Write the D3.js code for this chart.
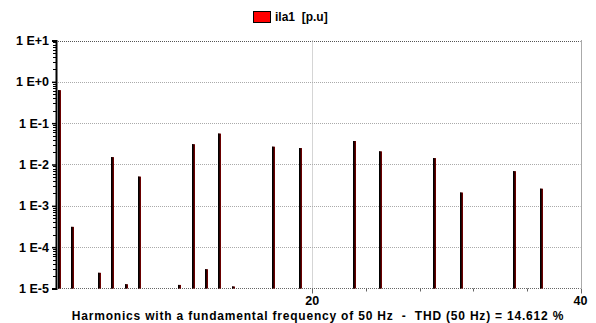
<!DOCTYPE html>
<html>
<head>
<meta charset="utf-8">
<script src="https://cdn.jsdelivr.net/npm/d3@7"></script>
<style>
  html, body { margin: 0; padding: 0; background: #fff; }
  svg { display: block; }
  svg text { font-family: "Liberation Sans", Arial, sans-serif; font-weight: 700; white-space: pre; fill: #000; }
</style>
</head>
<body>
<svg id="chart" width="596" height="323"></svg>
<script>
// Harmonic spectrum of phase current ila1 (per unit), log scale
const harmonicOrders = [1, 2, 4, 5, 6, 7, 10, 11, 12, 13, 14, 17, 19, 23, 25, 29, 31, 35, 37];
const harmonicValues = [0.63, 3.1e-4, 2.4e-5, 0.0151, 1.27e-5, 5.1e-3, 1.22e-5, 0.031, 2.93e-5, 0.056, 1.12e-5,
                        0.027, 0.025, 0.037, 0.0208, 0.0143, 2.1e-3, 6.9e-3, 2.6e-3];
const yTickValues = [1e1, 1e0, 1e-1, 1e-2, 1e-3, 1e-4, 1e-5];
const yTickLabels = ["1 E+1", "1 E+0", "1 E-1", "1 E-2", "1 E-3", "1 E-4", "1 E-5"];
const xTickValues = [20, 40];
const xMinorTicks = [24, 28, 32, 36];
const seriesName = "ila1  [p.u]";
const xTitle = "Harmonics with a fundamental frequency of 50 Hz  -  THD (50 Hz) = 14.612 %";

const svg = d3.select("#chart");
const plotLeft = 57.5, plotRight = 580.5, plotTop = 40.5, plotBottom = 288.5;
const axisX = 56;

const x = d3.scaleLinear().domain([1, 40]).range([plotLeft, plotRight]);
const y = d3.scaleLog().domain([1e-5, 1e1]).range([plotBottom, plotTop]);

// horizontal grid lines
svg.append("g").selectAll("line")
  .data(yTickValues.filter(v => v > 1e-5))
  .join("line")
  .attr("x1", axisX).attr("x2", plotRight)
  .attr("y1", d => Math.round(y(d)) + 0.5).attr("y2", d => Math.round(y(d)) + 0.5)
  .attr("stroke", d => d === 1e1 ? "#555" : "#aaa")
  .attr("stroke-width", 1)
  .attr("stroke-dasharray", "1,1");

// vertical grid line at 20, right frame at 40
svg.append("g").selectAll("line")
  .data(xTickValues)
  .join("line")
  .attr("x1", d => Math.round(x(d)) + 0.5).attr("x2", d => Math.round(x(d)) + 0.5)
  .attr("y1", plotTop).attr("y2", plotBottom)
  .attr("stroke", d => d === 40 ? "#555" : "#aaa")
  .attr("stroke-dasharray", "1,1");

// bottom axis line (dotted)
svg.append("line")
  .attr("x1", axisX).attr("x2", plotRight)
  .attr("y1", plotBottom).attr("y2", plotBottom)
  .attr("stroke", "#666").attr("stroke-dasharray", "1,1");

// bars: thin black stem with dark red right edge
const bars = svg.append("g");
harmonicOrders.forEach((h, i) => {
  const cx = Math.max(Math.round(x(h)), axisX + 1.5);
  const yt = y(harmonicValues[i]);
  bars.append("rect")
    .attr("x", cx).attr("y", yt)
    .attr("width", 3).attr("height", plotBottom - yt)
    .attr("fill", "#6a0000");
  bars.append("rect")
    .attr("x", cx).attr("y", yt)
    .attr("width", 1.6).attr("height", plotBottom - yt)
    .attr("fill", "#000");
});

// left axis with log minor ticks
const yAxis = d3.axisLeft(y)
  .tickValues(yTickValues)
  .tickFormat((d, i) => yTickLabels[i])
  .tickSize(4)
  .tickPadding(3);
const gy = svg.append("g").attr("transform", `translate(${axisX},0)`).call(yAxis);
gy.attr("font-family", null).attr("font-size", null);
gy.select(".domain").attr("stroke", "#000").attr("stroke-width", 2);
gy.selectAll(".tick line").attr("stroke", "#000").attr("stroke-width", 1.5);
gy.selectAll(".tick text").attr("font-size", 12.5).attr("fill", "#000");

const minor = [];
for (let e = -5; e < 1; e++) for (let m = 2; m <= 9; m++) minor.push(m * Math.pow(10, e));
svg.append("g").selectAll("line").data(minor).join("line")
  .attr("x1", axisX - 3).attr("x2", axisX)
  .attr("y1", d => Math.round(y(d)) + 0.5).attr("y2", d => Math.round(y(d)) + 0.5)
  .attr("stroke", "#000").attr("stroke-width", 1);

// x ticks
svg.append("g").selectAll("line").data(xTickValues.concat(xMinorTicks)).join("line")
  .attr("x1", d => Math.round(x(d)) + 0.5).attr("x2", d => Math.round(x(d)) + 0.5)
  .attr("y1", plotBottom).attr("y2", d => xTickValues.includes(d) ? plotBottom + 5 : plotBottom + 3)
  .attr("stroke", "#666");
svg.append("g").selectAll("text").data(xTickValues).join("text")
  .attr("x", d => x(d)).attr("y", 305)
  .attr("text-anchor", "middle").attr("font-size", 12.5)
  .text(d => d);

// x axis title
svg.append("text")
  .attr("x", 318).attr("y", 319.5)
  .attr("text-anchor", "middle").attr("font-size", 12)
  .attr("letter-spacing", 0.8)
  .text(xTitle);

// legend
svg.append("rect").attr("x", 253.5).attr("y", 11.5).attr("width", 17).attr("height", 11)
  .attr("fill", "#f00").attr("stroke", "#000");
svg.append("text").attr("x", 275).attr("y", 21).attr("font-size", 12).text(seriesName);
</script>
</body>
</html>
